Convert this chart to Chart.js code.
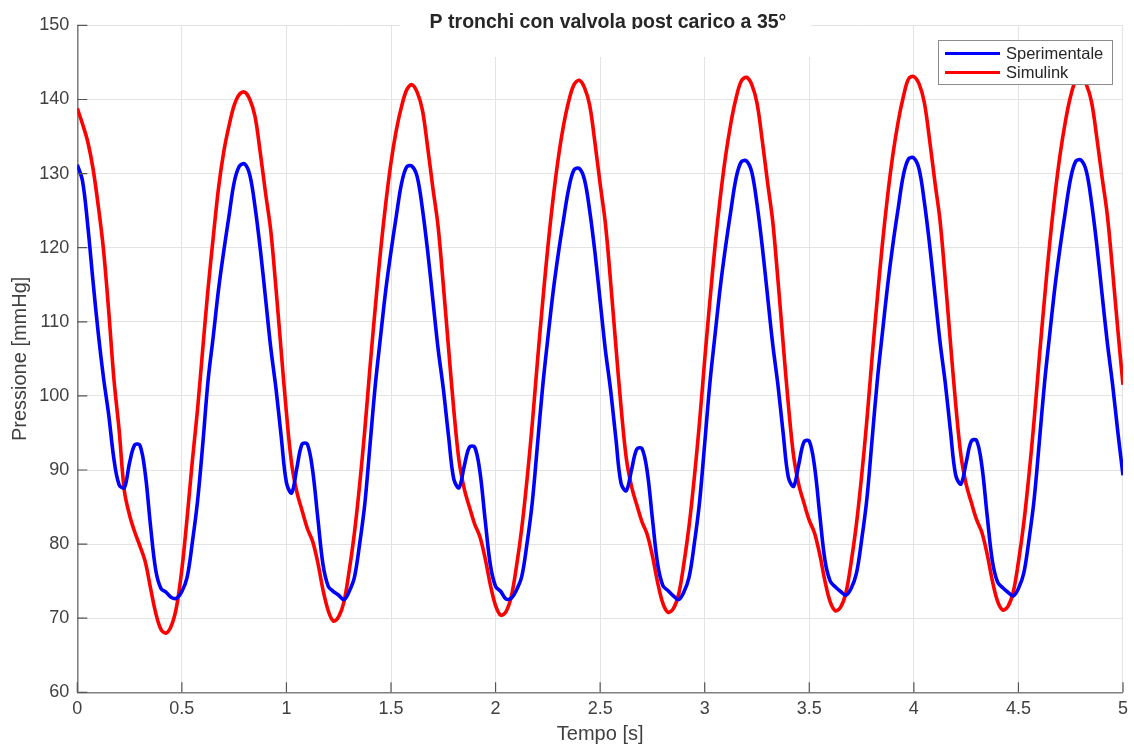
<!DOCTYPE html>
<html lang="it">
<head>
<meta charset="utf-8">
<title>P tronchi con valvola post carico a 35°</title>
<script src="https://cdn.jsdelivr.net/npm/chart.js@4.4.1/dist/chart.umd.min.js"></script>
<style>
  html, body { margin: 0; padding: 0; background: #ffffff; }
  #c { display: block; }
</style>
</head>
<body>
<canvas id="c" width="1134" height="744"></canvas>
<script>
// Pressione nei tronchi [mmHg], campionata ogni 25 ms da 0 a 5 s
const SAMPLE_DT = 0.025;

const sperimentale = [
  // 0.0 - 0.8 s
  131.2, 129.0, 123.0, 115.5, 108.5, 102.5, 97.5, 91.5, 88.0, 87.6, 91.0, 93.4, 93.3, 89.5, 82.5, 76.5,
  74.0, 73.5, 72.8, 72.7, 73.6, 75.5, 80.2, 85.8, 93.5, 102.0, 108.0, 114.3, 119.5, 124.2, 128.8, 131.0,
  // 0.8 - 1.6 s
  131.3, 129.8, 125.5, 119.8, 113.2, 106.5, 101.0, 94.5, 88.3, 86.9, 90.3, 93.5, 93.5, 90.0, 83.5, 77.2,
  74.3, 73.6, 73.1, 72.5, 73.6, 75.5, 80.0, 85.5, 93.5, 101.5, 108.0, 114.3, 119.5, 124.2, 128.6, 130.9,
  // 1.6 - 2.4 s
  131.0, 129.6, 125.3, 119.6, 113.0, 106.4, 101.0, 94.6, 88.8, 87.6, 90.5, 93.1, 93.1, 89.8, 83.3, 77.2,
  74.3, 73.6, 72.6, 72.7, 73.8, 75.6, 80.0, 85.5, 93.3, 101.2, 107.8, 114.0, 119.2, 123.8, 128.0, 130.5,
  // 2.4 - 3.2 s
  130.7, 129.2, 125.0, 119.4, 112.8, 106.2, 100.8, 94.3, 88.2, 87.2, 90.0, 92.8, 92.9, 89.8, 83.4, 77.3,
  74.4, 73.7, 73.0, 72.5, 73.5, 75.5, 80.0, 85.6, 93.6, 101.8, 108.4, 114.8, 120.2, 125.0, 129.4, 131.6,
  // 3.2 - 4.0 s
  131.7, 130.2, 125.9, 120.2, 113.6, 107.0, 101.5, 95.0, 89.0, 87.8, 90.8, 93.8, 93.9, 90.5, 84.0, 77.8,
  75.0, 74.2, 73.6, 73.1, 74.0, 76.0, 80.5, 86.0, 94.0, 102.0, 108.6, 115.0, 120.5, 125.3, 129.8, 132.0,
  // 4.0 - 4.8 s
  132.1, 130.6, 126.2, 120.5, 113.9, 107.3, 101.8, 95.3, 89.3, 88.1, 91.0, 93.9, 94.0, 90.6, 84.0, 77.8,
  74.9, 74.1, 73.5, 73.0, 74.0, 76.0, 80.5, 86.0, 93.8, 101.8, 108.4, 114.8, 120.2, 125.0, 129.4, 131.7,
  // 4.8 - 5.0 s
  131.8, 130.3, 126.0, 120.3, 113.7, 107.2, 101.6, 95.2, 89.3
];

const simulink = [
  // 0.0 - 0.8 s
  138.8, 136.7, 134.3, 130.7, 125.7, 119.8, 111.5, 102.3, 95.4, 87.2, 83.9, 81.6, 79.7, 77.6, 74.1, 70.7,
  68.5, 68.0, 69.0, 71.6, 76.6, 83.5, 91.2, 98.2, 106.4, 114.4, 121.4, 128.0, 132.9, 136.4, 139.2, 140.7,
  // 0.8 - 1.6 s
  141.0, 140.0, 137.7, 132.8, 127.4, 122.3, 114.5, 106.0, 97.7, 90.8, 87.0, 84.5, 82.1, 80.4, 77.5, 73.8,
  71.0, 69.6, 70.2, 72.2, 76.4, 81.5, 88.0, 95.5, 104.0, 112.0, 119.5, 126.0, 131.5, 135.8, 139.0, 141.3,
  // 1.6 - 2.4 s
  142.0, 141.0, 138.6, 133.6, 128.1, 122.9, 115.0, 106.5, 98.2, 91.3, 87.5, 85.0, 82.7, 81.0, 78.1, 74.5,
  71.7, 70.4, 70.9, 72.9, 77.0, 82.1, 88.6, 96.1, 104.6, 112.6, 120.1, 126.6, 132.1, 136.5, 139.8, 142.0,
  // 2.4 - 3.2 s
  142.6, 141.6, 139.2, 134.2, 128.6, 123.3, 115.4, 106.8, 98.5, 91.6, 87.8, 85.3, 83.0, 81.3, 78.4, 74.8,
  72.0, 70.8, 71.3, 73.2, 77.3, 82.4, 88.9, 96.4, 104.9, 112.9, 120.4, 126.9, 132.4, 136.8, 140.2, 142.5,
  // 3.2 - 4.0 s
  143.0, 142.0, 139.5, 134.5, 128.9, 123.6, 115.7, 107.1, 98.8, 91.9, 88.0, 85.5, 83.2, 81.5, 78.6, 75.0,
  72.2, 71.0, 71.5, 73.4, 77.5, 82.6, 89.1, 96.6, 105.1, 113.1, 120.6, 127.1, 132.6, 137.0, 140.4, 142.8,
  // 4.0 - 4.8 s
  143.1, 142.1, 139.6, 134.6, 129.0, 123.7, 115.8, 107.2, 98.9, 92.0, 88.1, 85.6, 83.3, 81.6, 78.7, 75.1,
  72.3, 71.1, 71.6, 73.5, 77.6, 82.7, 89.2, 96.7, 105.2, 113.2, 120.7, 127.2, 132.7, 137.1, 140.5, 142.6,
  // 4.8 - 5.0 s
  143.0, 142.0, 139.6, 134.8, 129.5, 124.4, 117.0, 109.0, 101.5
];

// sample instants [s]
const tempo = sperimentale.map((_, i) => +(i * SAMPLE_DT).toFixed(3));

const xTickValues = [0, 0.5, 1, 1.5, 2, 2.5, 3, 3.5, 4, 4.5, 5];
const xTickLabels = ['0', '0.5', '1', '1.5', '2', '2.5', '3', '3.5', '4', '4.5', '5'];
const yTickValues = [60, 70, 80, 90, 100, 110, 120, 130, 140, 150];
const yTickLabels = ['60', '70', '80', '90', '100', '110', '120', '130', '140', '150'];

const titolo = 'P tronchi con valvola post carico a 35°';
const etichettaX = 'Tempo [s]';
const etichettaY = 'Pressione [mmHg]';

const FONT = "'Liberation Sans', Arial, Helvetica, sans-serif";
const TEXT_COLOR = '#262626';
const AXIS_COLOR = '#808080';
const GRID_COLOR = '#e3e3e3';

Chart.defaults.font.family = FONT;
Chart.defaults.color = TEXT_COLOR;

// white band with the bold title, laid over the top of the plot box
const titlePlugin = {
  id: 'titleBand',
  beforeDatasetsDraw(chart) {
    const { ctx } = chart;
    ctx.save();
    ctx.fillStyle = '#ffffff';
    ctx.fillRect(400, 0, 411, 57);
    ctx.beginPath();
    ctx.rect(0, 0, chart.width, 29);
    ctx.clip();
    ctx.fillStyle = TEXT_COLOR;
    ctx.font = 'bold 19.5px ' + FONT;
    ctx.textAlign = 'center';
    ctx.textBaseline = 'alphabetic';
    ctx.fillText(titolo, 608, 27.5);
    ctx.restore();
  }
};

// tick marks pointing into the plot box
const innerTicksPlugin = {
  id: 'innerTicks',
  afterDraw(chart) {
    const { ctx, chartArea } = chart;
    const { x, y } = chart.scales;
    ctx.save();
    ctx.strokeStyle = '#555555';
    ctx.lineWidth = 1.2;
    ctx.beginPath();
    y.ticks.forEach(t => {
      const py = y.getPixelForValue(t.value);
      ctx.moveTo(chartArea.left, py);
      ctx.lineTo(chartArea.left + 10, py);
    });
    x.ticks.forEach(t => {
      const px = x.getPixelForValue(t.value);
      ctx.moveTo(px, chartArea.bottom);
      ctx.lineTo(px, chartArea.bottom - 10);
    });
    ctx.stroke();
    ctx.restore();
  }
};

// boxed legend in the upper right corner of the plot
const boxLegendPlugin = {
  id: 'boxLegend',
  afterDraw(chart) {
    const { ctx } = chart;
    const box = { x: 938.5, y: 40.5, w: 174, h: 44 };
    ctx.save();
    ctx.fillStyle = '#ffffff';
    ctx.fillRect(box.x, box.y, box.w, box.h);
    ctx.strokeStyle = '#8c8c8c';
    ctx.lineWidth = 1;
    ctx.strokeRect(box.x, box.y, box.w, box.h);
    ctx.font = '16.5px ' + FONT;
    ctx.textAlign = 'left';
    ctx.textBaseline = 'middle';
    chart.data.datasets.forEach((ds, i) => {
      const yy = 53.5 + i * 19;
      ctx.strokeStyle = ds.borderColor;
      ctx.lineWidth = 3;
      ctx.beginPath();
      ctx.moveTo(945, yy);
      ctx.lineTo(1000, yy);
      ctx.stroke();
      ctx.fillStyle = TEXT_COLOR;
      ctx.fillText(ds.label, 1006, yy + 0.5);
    });
    ctx.restore();
  }
};

new Chart(document.getElementById('c'), {
  type: 'line',
  data: {
    labels: tempo,
    datasets: [
      {
        label: 'Sperimentale',
        data: sperimentale,
        borderColor: '#0000ff',
        borderWidth: 3.6,
        pointRadius: 0,
        tension: 0.35,
        fill: false
      },
      {
        label: 'Simulink',
        data: simulink,
        borderColor: '#ff0000',
        borderWidth: 3.6,
        pointRadius: 0,
        tension: 0.35,
        fill: false
      }
    ]
  },
  options: {
    responsive: false,
    animation: false,
    devicePixelRatio: 1,
    layout: { padding: { top: 25.4, right: 6.7, bottom: 0, left: 0 } },
    plugins: {
      legend: { display: false },
      tooltip: { enabled: false },
      title: { display: false }
    },
    scales: {
      x: {
        type: 'linear',
        min: 0,
        max: 5,
        afterBuildTicks(scale) { scale.ticks = xTickValues.map(v => ({ value: v })); },
        afterFit(scale) { scale.height = 51.7; },
        ticks: {
          callback: v => xTickLabels[xTickValues.indexOf(v)],
          font: { size: 18 },
          color: '#404040',
          padding: 6,
          maxRotation: 0,
          autoSkip: false
        },
        grid: { color: GRID_COLOR, lineWidth: 1, drawTicks: false },
        border: { display: true, color: AXIS_COLOR, width: 1.6 },
        title: {
          display: true,
          text: etichettaX,
          font: { size: 20, lineHeight: 1 },
          color: '#404040',
          padding: { top: 0, bottom: 0 }
        }
      },
      y: {
        min: 60,
        max: 150,
        afterBuildTicks(scale) { scale.ticks = yTickValues.map(v => ({ value: v })); },
        afterFit(scale) { scale.width = 77.3; },
        ticks: {
          callback: v => yTickLabels[yTickValues.indexOf(v)],
          font: { size: 18 },
          color: '#404040',
          padding: 8,
          autoSkip: false
        },
        grid: { color: GRID_COLOR, lineWidth: 1, drawTicks: false },
        border: { display: true, color: AXIS_COLOR, width: 1.6 },
        title: {
          display: true,
          text: etichettaY,
          font: { size: 20, lineHeight: 1 },
          color: '#404040',
          padding: { top: 10, bottom: 0 }
        }
      }
    }
  },
  plugins: [titlePlugin, innerTicksPlugin, boxLegendPlugin]
});
</script>
</body>
</html>
